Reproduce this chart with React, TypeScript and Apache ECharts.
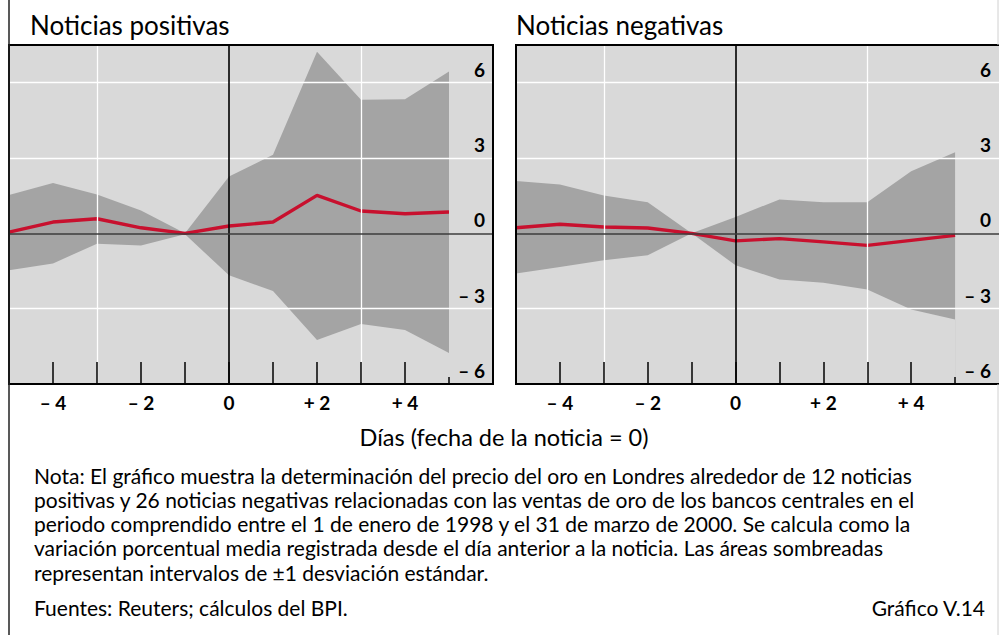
import React, { useEffect, useRef } from 'react';
import * as echarts from 'echarts';

const days = [-5, -4, -3, -2, -1, 0, 1, 2, 3, 4, 5];
const posMean = [0.05, 0.45, 0.58, 0.22, 0.0, 0.29, 0.45, 1.51, 0.89, 0.78, 0.85];
const posUpper = [1.53, 2.0, 1.55, 0.91, 0.0, 2.26, 3.13, 7.23, 5.32, 5.34, 6.44];
const posLower = [-1.47, -1.2, -0.41, -0.48, -0.04, -1.67, -2.3, -4.25, -3.61, -3.85, -4.77];
const negMean = [0.22, 0.36, 0.25, 0.21, 0.0, -0.3, -0.21, -0.34, -0.48, -0.28, -0.08];
const negUpper = [2.08, 1.94, 1.51, 1.24, 0.0, 0.65, 1.35, 1.24, 1.24, 2.47, 3.23];
const negLower = [-1.6, -1.34, -1.07, -0.87, 0.0, -1.27, -1.84, -1.97, -2.24, -3.03, -3.43];

const xLabelValues = [-4, -2, 0, 2, 4];
const xTickLabels = ['– 4', '– 2', '0', '+ 2', '+ 4'];
const xTickValues = [-4, -3, -2, -1, 0, 1, 2, 3, 4];
const yLabelValues = [-6, -3, 0, 3, 6];
const yTickLabels = ['– 6', '– 3', '0', '3', '6'];

const panelTitles = ['Noticias positivas', 'Noticias negativas'];
const axisTitle = 'Días (fecha de la noticia = 0)';
const noteLines = [
  'Nota: El gráfico muestra la determinación del precio del oro en Londres alrededor de 12 noticias',
  'positivas y 26 noticias negativas relacionadas con las ventas de oro de los bancos centrales en el',
  'periodo comprendido entre el 1 de enero de 1998 y el 31 de marzo de 2000. Se calcula como la',
  'variación porcentual media registrada desde el día anterior a la noticia. Las áreas sombreadas',
  'representan intervalos de ±1 desviación estándar.',
];
const sourceText = 'Fuentes: Reuters; cálculos del BPI.';
const chartId = 'Gráfico V.14';

const FONT = 'Lato, "Open Sans", sans-serif';
const RED = '#c8102e';
const BAND = '#a4a4a4';
const BG = '#d9d9d9';

const grids = [
  { left: 9, top: 45, width: 484, height: 339 },
  { left: 516, top: 45, width: 484, height: 339 },
];

function panelSeries(gi: number, mean: number[], upper: number[], lower: number[]) {
  const xi = gi * 2;
  const upperData = days.map((d, i) => [d, upper[i]]);
  const lowerData = days.map((d, i) => [d, lower[i]]);
  const meanData = days.map((d, i) => [d, mean[i]]);
  const white = { color: '#ffffff', width: 1.3, type: 'solid' };
  return [
    {
      type: 'line', xAxisIndex: xi, yAxisIndex: gi, data: upperData, symbol: 'none', silent: true,
      lineStyle: { width: 0, opacity: 0 }, areaStyle: { color: BAND, opacity: 1, origin: 'start' }, z: 1,
    },
    {
      type: 'line', xAxisIndex: xi, yAxisIndex: gi, data: lowerData, symbol: 'none', silent: true,
      lineStyle: { width: 0, opacity: 0 }, areaStyle: { color: BG, opacity: 1, origin: 'start' }, z: 1,
    },
    {
      type: 'line', xAxisIndex: xi, yAxisIndex: gi, data: [], z: 2, silent: true,
      markLine: {
        silent: true, symbol: 'none', animation: false, label: { show: false },
        data: [
          { xAxis: -3, lineStyle: white },
          { xAxis: 3, lineStyle: white },
          { yAxis: 6, lineStyle: white },
          { yAxis: 3, lineStyle: white },
          { yAxis: -3, lineStyle: white },
          { xAxis: 0, lineStyle: { color: '#000', width: 1.6, type: 'solid' } },
          { yAxis: 0, lineStyle: { color: '#3c3c3c', width: 1.6, type: 'solid' } },
        ],
      },
    },
    {
      type: 'line', xAxisIndex: xi, yAxisIndex: gi, data: meanData, symbol: 'none',
      lineStyle: { color: RED, width: 3.4 }, z: 3, silent: true,
    },
  ];
}

export default function App() {
  const ref = useRef<HTMLDivElement>(null);
  useEffect(() => {
    if (!ref.current) return;
    const chart = echarts.init(ref.current, null, { renderer: 'svg' });
    const xAxes: any[] = [];
    const yAxes: any[] = [];
    grids.forEach((_, gi) => {
      xAxes.push({
        type: 'value', gridIndex: gi, min: -5, max: 6, position: 'bottom', z: 10,
        axisLine: { show: false, onZero: false },
        splitLine: { show: false },
        axisTick: { show: true, inside: true, length: 22, customValues: xTickValues, lineStyle: { color: '#000', width: 1.5 } },
        axisLabel: {
          show: true, customValues: xLabelValues, margin: 9,
          formatter: (v: number) => { const k = xLabelValues.indexOf(v); return k >= 0 ? xTickLabels[k] : ''; },
          color: '#000', fontFamily: FONT, fontWeight: 'bold', fontSize: 19,
        },
      });
      xAxes.push({
        type: 'value', gridIndex: gi, min: -5, max: 6, position: 'bottom', z: 10,
        axisLine: { show: false, onZero: false },
        splitLine: { show: false },
        axisTick: { show: true, inside: true, length: 7, customValues: [5], lineStyle: { color: '#000', width: 1.5 } },
        axisLabel: { show: false },
      });
      yAxes.push({
        type: 'value', gridIndex: gi, min: -6, max: 7.5, position: 'right', z: 10,
        axisLine: { show: false, onZero: false },
        axisTick: { show: false },
        splitLine: { show: false },
        axisLabel: {
          show: true, inside: true, customValues: yLabelValues, margin: 8,
          verticalAlign: 'bottom', padding: [0, 0, 4, 0],
          formatter: (v: number) => { const k = yLabelValues.indexOf(v); return k >= 0 ? yTickLabels[k] : ''; },
          color: '#000', fontFamily: FONT, fontWeight: 'bold', fontSize: 19,
        },
      });
    });

    const graphic: any[] = [];
    grids.forEach((g, gi) => {
      graphic.push({
        type: 'rect', z: 100, silent: true,
        shape: { x: g.left, y: g.top, width: g.width, height: g.height },
        style: { fill: 'transparent', stroke: '#000', lineWidth: 2 },
      });
      graphic.push({
        type: 'text', z: 100, x: gi === 0 ? 30 : 516, y: 25,
        style: { text: panelTitles[gi], fill: '#000', font: `26px ${FONT}`, textAlign: 'left', textVerticalAlign: 'middle' },
      });
    });
    graphic.push({ type: 'line', z: 100, shape: { x1: 9, y1: 0, x2: 9, y2: 635 }, style: { stroke: '#222', lineWidth: 1.5 } });
    graphic.push({ type: 'line', z: 100, shape: { x1: 998, y1: 0, x2: 998, y2: 45 }, style: { stroke: '#d0d0d0', lineWidth: 1 } });
    graphic.push({ type: 'line', z: 100, shape: { x1: 998, y1: 384, x2: 998, y2: 635 }, style: { stroke: '#d0d0d0', lineWidth: 1 } });
    graphic.push({
      type: 'text', z: 100, x: 504, y: 437,
      style: { text: axisTitle, fill: '#000', font: `23.5px ${FONT}`, textAlign: 'center', textVerticalAlign: 'middle' },
    });
    noteLines.forEach((t, i) => {
      graphic.push({
        type: 'text', z: 100, x: 34, y: 475 + i * 24.3,
        style: { text: t, fill: '#000', font: `21px ${FONT}`, textAlign: 'left', textVerticalAlign: 'middle' },
      });
    });
    graphic.push({
      type: 'text', z: 100, x: 34, y: 607,
      style: { text: sourceText, fill: '#000', font: `21px ${FONT}`, textAlign: 'left', textVerticalAlign: 'middle' },
    });
    graphic.push({
      type: 'text', z: 100, x: 985, y: 607,
      style: { text: chartId, fill: '#000', font: `21px ${FONT}`, textAlign: 'right', textVerticalAlign: 'middle' },
    });

    chart.setOption({
      animation: false,
      backgroundColor: '#ffffff',
      grid: grids.map((g) => ({ ...g, show: true, backgroundColor: BG, borderWidth: 0, containLabel: false })),
      xAxis: xAxes,
      yAxis: yAxes,
      series: [
        ...panelSeries(0, posMean, posUpper, posLower),
        ...panelSeries(1, negMean, negUpper, negLower),
      ],
      graphic,
    });
    return () => chart.dispose();
  }, []);
  return <div ref={ref} style={{ position: 'absolute', left: 0, top: 0, width: 999, height: 635 }} />;
}
